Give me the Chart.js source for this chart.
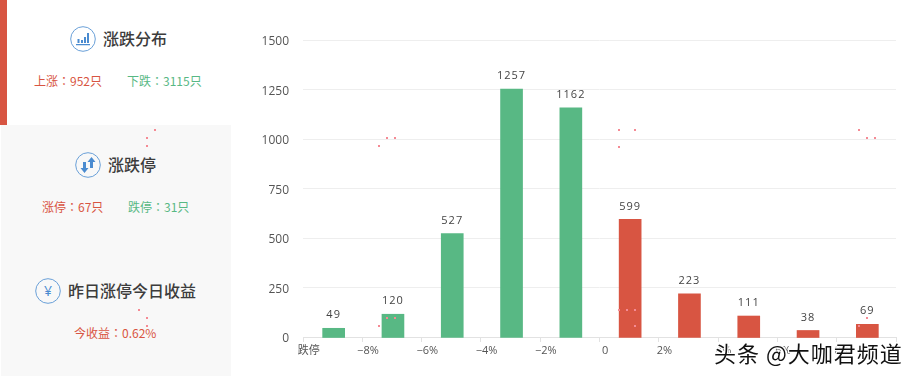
<!DOCTYPE html>
<html>
<head>
<meta charset="utf-8">
<script src="https://cdn.jsdelivr.net/npm/chart.js@4/dist/chart.umd.min.js"></script>
<style>
  html, body { margin: 0; padding: 0; width: 917px; height: 376px; overflow: hidden; background: #fff; }
  body { position: relative; font-family: "Noto Sans CJK SC", "Noto Sans", sans-serif; }
  #redbar { position: absolute; left: 0; top: 0; width: 7px; height: 125px; background: #d85542; }
  #panel { position: absolute; left: 1px; top: 125px; width: 230px; height: 251px; background: #f8f8f8; }
  .title { position: absolute; font-size: 16px; font-weight: 500; color: #3c3c3c; line-height: 20px; white-space: nowrap; }
  .stat { position: absolute; font-size: 12px; line-height: 16px; white-space: nowrap; }
  .stat i { font-style: normal; font-family: "Noto Sans CJK TC", sans-serif; }
  .up { color: #d85542; }
  .down { color: #58b884; }
  .icon { position: absolute; width: 26px; height: 26px; }
  #wrap { position: absolute; left: 240px; top: 0; width: 677px; height: 376px; }
  #watermark {
    position: absolute; left: 714px; top: 337px; font-size: 22px; letter-spacing: 1px; line-height: 30px; color: #111; white-space: nowrap;
    text-shadow: 1px 1px 0 #fff, -1px -1px 0 #fff, 1px -1px 0 #fff, -1px 1px 0 #fff;
  }
  .dot { position: absolute; width: 2px; height: 2px; background: #f58a94; }
</style>
</head>
<body>
<div id="redbar"></div>
<div id="panel"></div>

<svg class="icon" style="left:70px;top:26px" viewBox="0 0 26 26">
  <circle cx="13" cy="13" r="12.3" fill="none" stroke="#6aa0d8" stroke-width="1"/>
  <path d="M6 18h14v1.2H6zM7.5 13h2v4h-2zM11 14h2v3h-2zM14 11h2v6h-2zM17 7h2v10h-2z" fill="#4a8bd0"/>
</svg>
<div class="title" style="left:103px;top:28px">涨跌分布</div>
<div class="stat up" style="left:34px;top:73px">上涨<i>：</i>952只</div>
<div class="stat down" style="left:127px;top:73px">下跌<i>：</i>3115只</div>

<svg class="icon" style="left:75px;top:152px" viewBox="0 0 26 26">
  <circle cx="13" cy="13" r="12.3" fill="none" stroke="#6aa0d8" stroke-width="1"/>
  <path d="M8 10h3v6h2.5l-4 5-4-5H8zM15 10h-2.5l4-5 4 5H18v6h-3z" fill="#4a8bd0"/>
</svg>
<div class="title" style="left:108px;top:154px">涨跌停</div>
<div class="stat up" style="left:42px;top:199px">涨停<i>：</i>67只</div>
<div class="stat down" style="left:128px;top:199px">跌停<i>：</i>31只</div>

<svg class="icon" style="left:35px;top:278px" viewBox="0 0 26 26">
  <circle cx="13" cy="13" r="12.3" fill="none" stroke="#6aa0d8" stroke-width="1"/>
  <text x="13" y="18" text-anchor="middle" font-size="14" fill="#4a8bd0" font-family="Noto Sans">¥</text>
</svg>
<div class="title" style="left:68px;top:280px">昨日涨停今日收益</div>
<div class="stat up" style="left:74px;top:325px">今收益<i>：</i>0.62%</div>

<div id="wrap"><canvas id="chart" width="677" height="376"></canvas></div>
<div id="watermark">头条 @大咖君频道</div>

<script>
const categories = ["跌停", "−8%", "−6%", "−4%", "−2%", "0", "2%", "4%", "6%", "8%"];
const counts = [49, 120, 527, 1257, 1162, 599, 223, 111, 38, 69];
const barColors = ["#58b884", "#58b884", "#58b884", "#58b884", "#58b884", "#d85542", "#d85542", "#d85542", "#d85542", "#d85542"];
const yTicks = [0, 250, 500, 750, 1000, 1250, 1500];

// little pink specks that sit on top of the screenshot
const specks = [
  [154, 129], [146, 137], [146, 145], [138, 309], [146, 317], [146, 325],
  [378, 145], [386, 137], [394, 137], [618, 129], [634, 129], [618, 146],
  [858, 129], [866, 137], [874, 137], [378, 325], [386, 317], [394, 317],
  [618, 309], [626, 309], [634, 309], [634, 325], [866, 317], [858, 325],
];
specks.forEach(([x, y]) => {
  const d = document.createElement("div");
  d.className = "dot";
  d.style.left = x + "px";
  d.style.top = y + "px";
  document.body.appendChild(d);
});

const xTickFont = { family: "'Open Sans', 'Noto Sans CJK SC', sans-serif", size: 11 };
const yTickFont = { family: "'Open Sans', sans-serif", size: 12 };

// nudges the bars 1px off the grid like the original, and draws the count above each one
const barValues = {
  id: "barValues",
  beforeDatasetsDraw(chart) {
    chart.ctx.save();
    chart.ctx.translate(1, 1);
  },
  afterDatasetsDraw(chart) {
    const ctx = chart.ctx;
    ctx.font = "11px 'Open Sans', sans-serif";
    ctx.letterSpacing = "1px";
    ctx.fillStyle = "#444";
    ctx.textAlign = "center";
    ctx.textBaseline = "middle";
    chart.getDatasetMeta(0).data.forEach((bar, i) => {
      ctx.fillText(counts[i], bar.x, bar.y - 13);
    });
    ctx.restore();
  },
};

new Chart(document.getElementById("chart"), {
  type: "bar",
  data: {
    labels: categories,
    datasets: [{ data: counts, backgroundColor: barColors, barThickness: 22 }],
  },
  options: {
    responsive: false,
    animation: false,
    layout: { padding: { top: 40, right: 21, left: 0, bottom: 0 } },
    plugins: { legend: { display: false }, tooltip: { enabled: false } },
    scales: {
      x: {
        afterFit: (scale) => { scale.height = 39; },
        border: { color: "#e2e2e2" },
        grid: { offset: true, drawOnChartArea: false, color: "#e2e2e2", tickLength: 5 },
        ticks: { color: "#555", font: xTickFont, labelOffset: -24, padding: 2, maxRotation: 0, autoSkip: false },
      },
      y: {
        min: 0,
        max: 1500,
        afterFit: (scale) => { scale.width = 63; },
        afterBuildTicks: (scale) => { scale.ticks = yTicks.map((v) => ({ value: v })); },
        border: { display: false },
        grid: { color: "#eeeeee", drawTicks: false },
        ticks: { color: "#555", font: yTickFont, padding: 14, labelOffset: 2, callback: (v) => String(v) },
      },
    },
  },
  plugins: [barValues],
});
</script>
</body>
</html>
